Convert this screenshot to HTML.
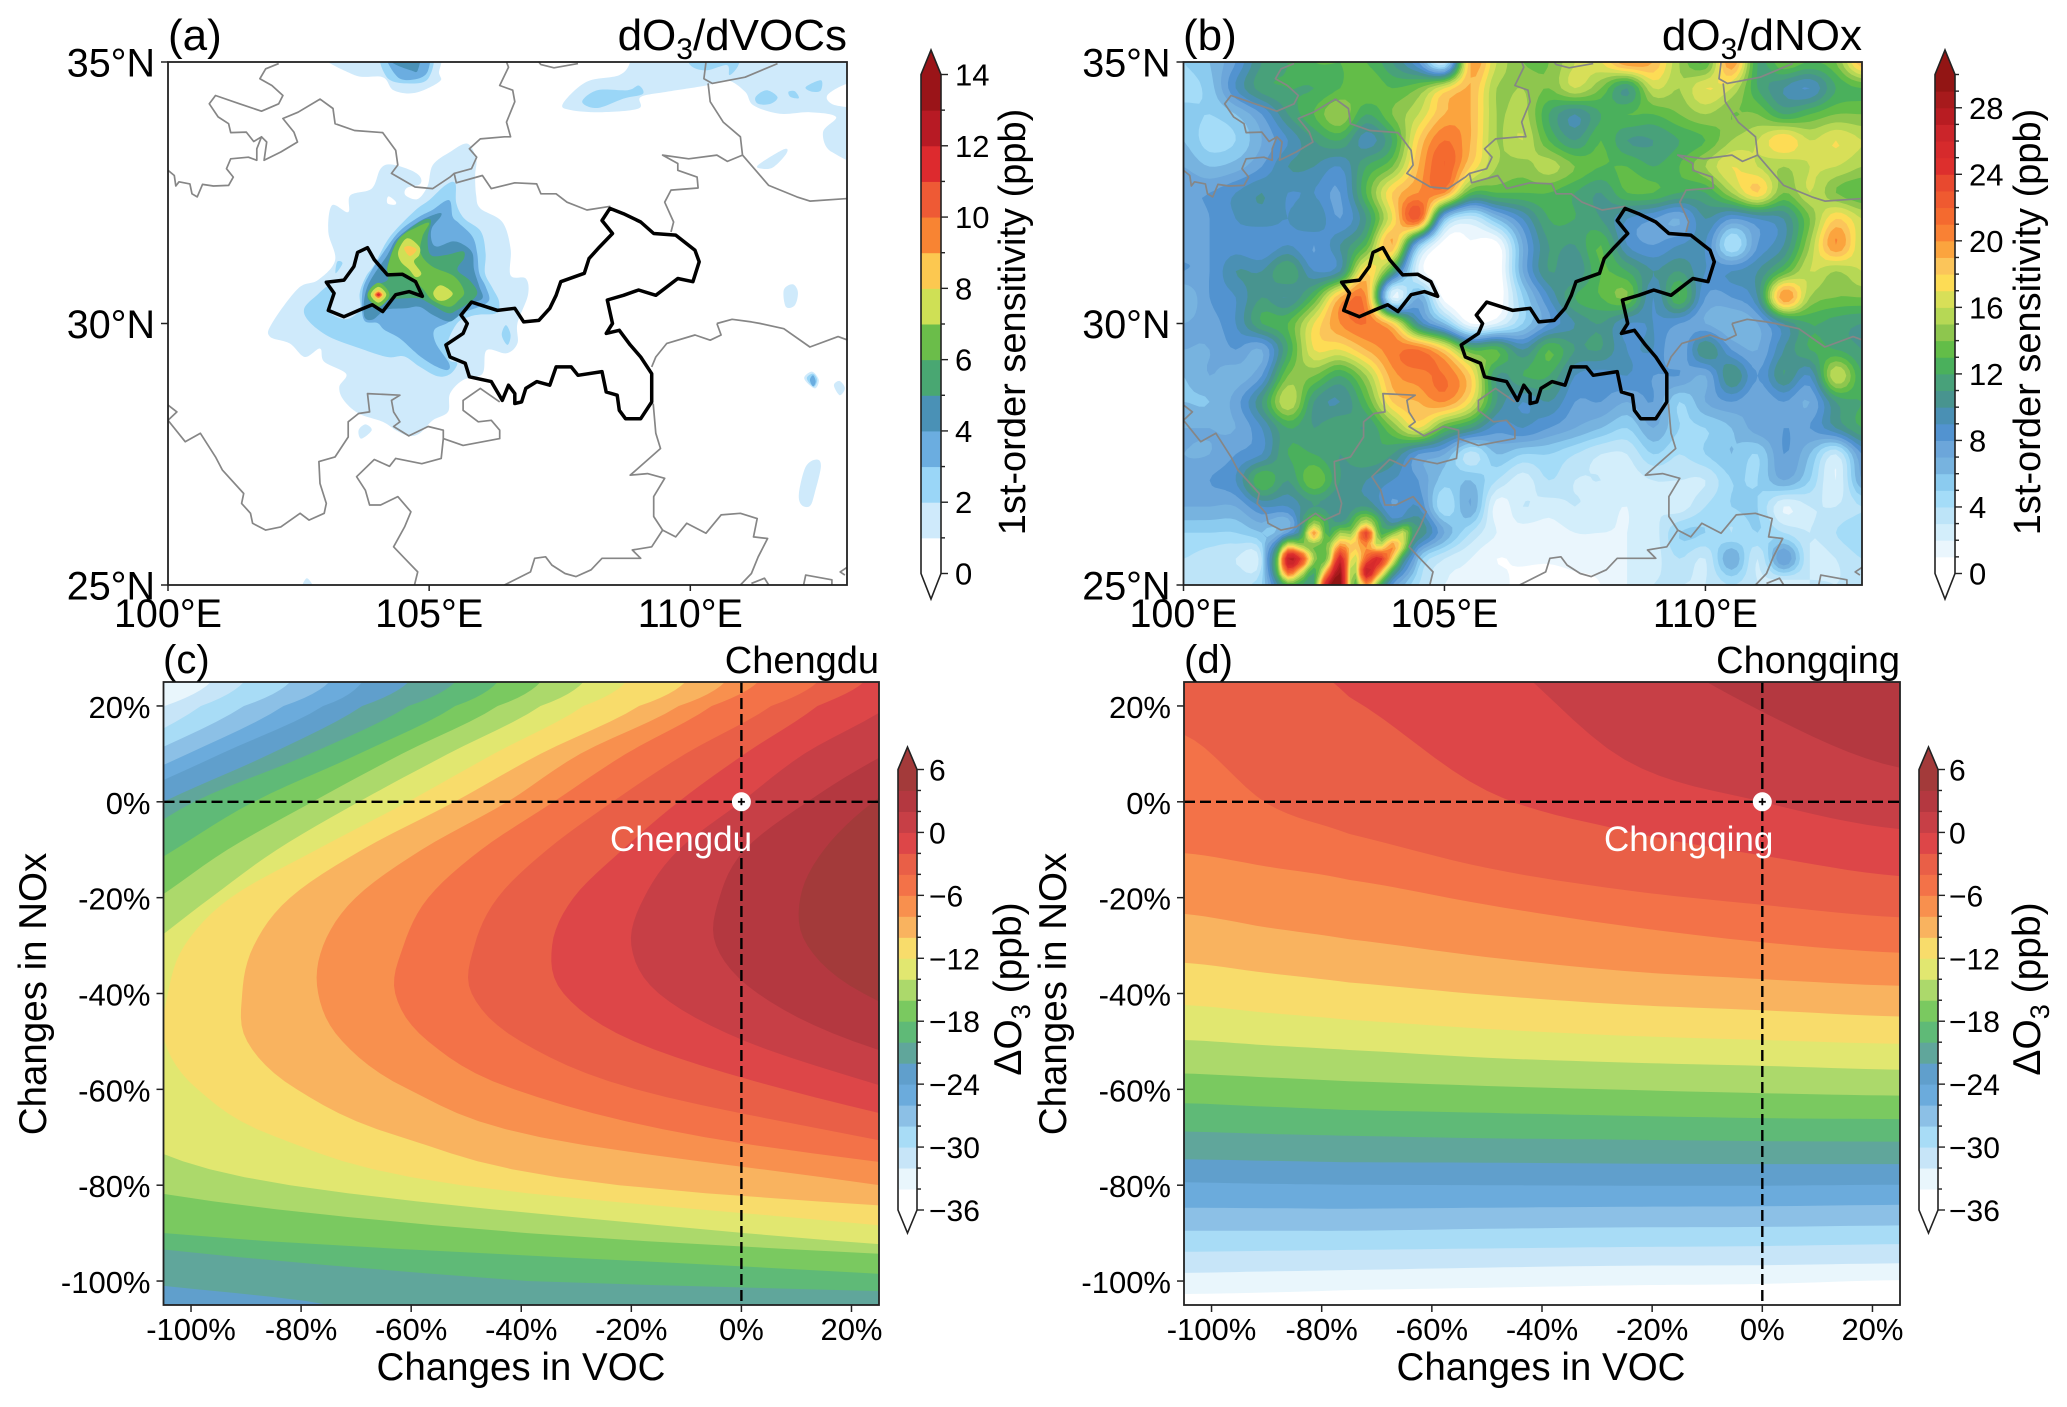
<!DOCTYPE html>
<html lang="en">
<head>
<meta charset="utf-8">
<title>Ozone sensitivity maps and isopleths for Chengdu and Chongqing</title>
<style>
html,body{margin:0;padding:0;background:#fff;}
svg{display:block;font-family:"Liberation Sans",Arial,sans-serif;fill:#000;}
</style>
</head>
<body>
<svg id="fig" xmlns="http://www.w3.org/2000/svg" width="2067" height="1407" viewBox="0 0 2067 1407">
  <rect x="0" y="0" width="2067" height="1407" fill="#fff"/>
  <defs>
    <clipPath id="clipA"><rect x="168" y="62" width="679" height="523"/></clipPath>
    <clipPath id="clipB"><rect x="1183.5" y="62" width="678.5" height="523"/></clipPath>
    <clipPath id="clipC"><rect x="163.5" y="682" width="715.5" height="623"/></clipPath>
    <clipPath id="clipD"><rect x="1184" y="682" width="716" height="623"/></clipPath>
  </defs>
  <g id="panelA"></g>
  <g id="panelB"></g>
  <g id="panelC"></g>
  <g id="panelD"></g>

  <text x="168" y="50" font-size="44">(a)</text>
  <text x="847" y="50" font-size="44" text-anchor="end">dO<tspan dy="9" font-size="30">3</tspan><tspan dy="-9">/dVOCs</tspan></text>
  <text x="1183" y="50" font-size="44">(b)</text>
  <text x="1862" y="50" font-size="44" text-anchor="end">dO<tspan dy="9" font-size="30">3</tspan><tspan dy="-9">/dNOx</tspan></text>
  <text x="163" y="673" font-size="40">(c)</text>
  <text x="879" y="673" font-size="38" text-anchor="end">Chengdu</text>
  <text x="1184" y="673" font-size="40">(d)</text>
  <text x="1900" y="673" font-size="38" text-anchor="end">Chongqing</text>

  <text font-size="38" text-anchor="middle" transform="translate(1025 322) rotate(-90)">1st-order sensitivity (ppb)</text>
  <text font-size="38" text-anchor="middle" transform="translate(2040 322) rotate(-90)">1st-order sensitivity (ppb)</text>
  <text font-size="39" text-anchor="middle" transform="translate(1021 989) rotate(-90)">ΔO<tspan dy="9" font-size="27">3</tspan><tspan dy="-9">  (ppb)</tspan></text>
  <text font-size="39" text-anchor="middle" transform="translate(2040 989) rotate(-90)">ΔO<tspan dy="9" font-size="27">3</tspan><tspan dy="-9">  (ppb)</tspan></text>

  <text font-size="38.5" text-anchor="middle" transform="translate(46 994) rotate(-90)">Changes in NOx</text>
  <text font-size="38.5" text-anchor="middle" transform="translate(1066 994) rotate(-90)">Changes in NOx</text>
  <text x="521" y="1380" font-size="38.5" text-anchor="middle">Changes in VOC</text>
  <text x="1541" y="1380" font-size="38.5" text-anchor="middle">Changes in VOC</text>
</svg>
<script>
/* ---------- colour bands ---------- */
const aColors=["#ffffff","#cfeafb","#9ad6f7","#6bade0","#4a91b6","#49a772","#6bbd4a","#cfe055","#fcc850","#f88433","#ee5a35","#dd2a2e","#b71a24","#9a1418"];
const bColors=["#ffffff","#eaf6fd","#d3eefb","#bde4f8","#a4dcf8","#8bcbef","#77b3df","#6ca6da","#5293d0","#4a90b4","#48948f","#48a17a","#4ab05c","#63bd48","#8ec64e","#b6d855","#d8df58","#fddc55","#fbc55a","#fba43e","#f98134","#f46a2f","#ef5a30","#e8492f","#dd2f2d","#d62a2c","#cb252a","#b81c22","#a71a1c","#921514"];
const o3Colors=["#ffffff","#e9f6fc","#c7e5f8","#a8dcf6","#8cc0e6","#6babdc","#609fcc","#60a69b","#5fba77","#7ac960","#acd96b","#e1e770","#f8dc6b","#f9b35f","#f8904e","#f37248","#e95f47","#dd4648","#c73f46","#b43840","#a33a3a"];

/* ---------- tick labels ---------- */
const lonTicks=[100,105,110];
const lonLabels=["100°E","105°E","110°E"];
const latTicks=[35,30,25];
const latLabels=["35°N","30°N","25°N"];
const pctTicksX=[-100,-80,-60,-40,-20,0,20];
const pctLabelsX=["-100%","-80%","-60%","-40%","-20%","0%","20%"];
const pctTicksY=[20,0,-20,-40,-60,-80,-100];
const pctLabelsY=["20%","0%","-20%","-40%","-60%","-80%","-100%"];
const cbarATicks=[0,2,4,6,8,10,12,14];
const cbarALabels=["0","2","4","6","8","10","12","14"];
const cbarBTicks=[0,4,8,12,16,20,24,28];
const cbarBLabels=["0","4","8","12","16","20","24","28"];
const cbarO3Ticks=[-36,-30,-24,-18,-12,-6,0,6];
const cbarO3Labels=["−36","−30","−24","−18","−12","−6","0","6"];

/* ---------- panel (a): traced contour regions, lon,lat pairs ---------- */
const aL1Main=[104.28,33.04,104.65,32.93,104.83,32.8,104.82,32.66,104.57,32.59,104.55,32.45,104.78,32.38,104.97,32.63,105.07,33.03,105.4,33.28,105.73,33.44,105.9,33.15,105.88,32.83,105.9,32.45,105.98,32.2,106.4,31.94,106.56,31.43,106.56,30.92,106.85,30.86,106.89,30.54,106.69,30,106.69,29.62,106.48,29.43,106.1,29.49,106.02,29.04,105.65,28.92,105.4,28.66,105.36,28.31,105.07,28.15,104.82,27.9,104.61,27.85,104.36,27.96,104.11,28.12,103.65,28.28,103.36,28.54,103.28,28.79,103.41,29.04,102.99,29.27,102.91,29.52,102.62,29.36,102.33,29.62,101.95,29.75,101.99,30,102.49,30.67,102.87,30.83,103.2,31.21,103.07,31.75,103.14,32.26,103.45,32.13,103.49,32.45,103.9,32.58,104.07,32.96];
const aL1South=[103.65,27.96,103.78,28.07,103.9,27.96,103.7,27.8];
const aL1North=[102.95,35.2,103.57,34.75,104.11,34.71,104.32,34.46,104.73,34.41,105.19,34.62,105.19,34.78,105.02,35.2];
const aL1NorthEast=[107.56,34.2,108.01,34.62,108.64,34.75,108.85,35,108.85,35.3,113.4,35.3,113.4,33.22,112.71,33.28,112.54,33.66,112.79,33.95,112.29,34.04,111.71,34.01,111.21,34.17,111.05,34.43,110.71,34.65,110.3,34.55,109.55,34.43,109.05,34.33,109.01,34.11,108.31,34.04,107.72,34.08];
const aL1Streak=[111.3,33.03,111.79,33.33,111.84,33.25,111.59,32.99,111.38,32.96];
const aL1EastA=[111.79,30.64,111.96,30.75,112.06,30.6,112,30.35,111.83,30.32];
const aL1EastB=[112.08,26.75,112.21,27.26,112.42,27.4,112.5,27.26,112.38,26.75,112.29,26.51,112.13,26.53];
const aL1EastC=[112.18,28.95,112.33,29.08,112.46,28.92,112.38,28.76];
const aL1EastD=[112.75,28.82,112.86,28.9,112.96,28.76,112.86,28.63];
const aL1Bottom=[102.57,24.95,102.66,25.13,102.78,24.95];
const aHoleNE=[112.62,34.36,113.02,34.59,113.4,34.59,113.4,34.17,112.79,34.17];
const aHoleCentre=[104.22,32.43,104.36,32.33,104.34,32.27,104.2,32.3];
const aL2Main=[102.61,30.29,102.86,30.55,103.08,30.71,103.15,30.45,103.08,30.23,103.4,30.08,103.67,30.26,103.67,30.58,103.79,30.9,103.95,31.12,104.17,31.54,104.36,31.79,104.74,32.17,105,32.36,105.32,32.65,105.5,32.68,105.52,32.3,105.67,32.01,105.99,31.76,106.08,31.34,106.07,30.96,106.21,30.68,106.34,30.42,106.29,30.2,105.96,30.17,105.77,30.13,105.54,30.01,105.35,29.62,105.38,29.31,105.54,29.24,105.41,29.04,105.16,28.99,104.81,29.18,104.52,29.37,104.2,29.36,103.66,29.53,103.08,29.75,102.7,30.04];
const aL2Chengdu=[103.24,31.18,103.34,31.15,103.21,30.96];
const aL2East=[106.47,29.97,106.56,29.78,106.5,29.59,106.39,29.78];
const aL2North=[104.11,35.2,104.19,34.71,104.57,34.59,104.98,34.68,105.02,35.2];
const aL2NeA=[107.93,34.24,108.22,34.46,108.8,34.46,109.01,34.55,109.09,34.39,108.72,34.3,108.22,34.12];
const aL2NeB=[111.25,34.33,111.46,34.46,111.67,34.33,111.54,34.2,111.3,34.2];
const aL2NeC=[111.88,34.43,112,34.44,112.08,34.31,111.92,34.33];
const aL2NeD=[112.21,34.52,112.5,34.65,112.5,34.46,112.34,34.43];
const aL2NeE=[110,34.94,110.3,34.84,110.7,34.94,110.75,34.75,110.92,34.94,110.92,35.2,110,35.2];
const aL2EastHot=[112.23,28.95,112.35,29.04,112.43,28.92,112.36,28.79];
const aL3Main=[103.72,30.58,103.85,30.93,104.2,31.47,104.46,31.79,104.81,32.04,105.06,32.17,105.38,32.36,105.45,32.04,105.57,31.92,105.83,31.66,105.92,31.34,105.96,30.96,106.08,30.71,106.15,30.45,105.96,30.32,105.64,30.2,105.35,30.01,105.1,29.88,105.13,29.62,105.38,29.24,105.35,29.11,105.13,29.18,104.87,29.34,104.68,29.5,104.43,29.72,104.14,29.88,104.01,30.01,103.75,30.07];
const aL3North=[104.19,35.2,104.4,34.71,104.78,34.68,104.98,34.84,104.94,35.2];
const aL3EastHot=[112.29,28.92,112.35,29.01,112.4,28.89,112.35,28.8];
const aL4Main=[104.2,31.31,104.39,31.63,104.81,31.95,105.19,32.11,105.22,32.04,105.05,31.82,105.05,31.57,105.16,31.47,105.45,31.57,105.67,31.5,105.83,31.34,105.86,31.03,105.96,30.71,106.02,30.48,105.77,30.36,105.51,30.1,105.35,30.04,105.06,30.17,104.81,30.32,104.55,30.29,104.17,30.26,103.91,30.07,103.75,30.17,103.82,30.71];
const aL4North=[104.28,35,104.65,34.84,104.78,34.84,104.8,35.2,104.3,35.2];
const aL5Main=[104.2,31.09,104.39,31.57,104.78,31.92,105.03,31.98,104.97,31.63,105.03,31.31,105.32,31.31,105.64,31.38,105.67,31.25,105.54,31.03,105.77,30.83,105.92,30.61,105.83,30.45,105.54,30.26,105.35,30.2,105,30.39,104.81,30.48,104.52,30.48,104.2,30.45,104.01,30.36,103.82,30.48,103.91,30.71,104.2,30.83];
const aL6Main=[104.23,31.18,104.43,31.63,104.78,31.85,105,31.92,104.87,31.66,104.84,31.34,105.06,31.09,105.48,30.9,105.67,30.61,105.57,30.45,105.38,30.32,105.06,30.45,104.9,30.64,104.74,30.8,104.52,30.96,104.23,30.96];
const aL6Hot=[103.82,30.55,104.03,30.78,104.24,30.55,104.03,30.32];
const aL7North=[104.41,31.38,104.58,31.63,104.81,31.47,104.81,31.31,104.71,31.18,104.85,30.96,104.74,30.89,104.62,31.03,104.46,31.18];
const aL7South=[105.08,30.59,105.22,30.73,105.45,30.58,105.32,30.45,105.16,30.45];
const aL7Hot=[103.88,30.55,104.03,30.7,104.18,30.55,104.03,30.4];
const aL8North=[104.52,31.44,104.63,31.48,104.76,31.41,104.63,31.29];
const aL8Hot=[103.93,30.55,104.03,30.64,104.13,30.55,104.03,30.46];
const aL9Hot=[103.96,30.55,104.03,30.61,104.1,30.55,104.03,30.49];
const aL10Hot=[103.98,30.55,104.03,30.59,104.08,30.55,104.03,30.51];
const aL11Hot=[104,30.55,104.03,30.575,104.06,30.55,104.03,30.525];
const aShapeLevels=[1,1,1,1,1,1,1,1,1,1,0,0,2,2,2,2,2,2,2,2,2,2,3,3,3,4,4,5,6,6,7,7,7,8,8,9,10,11];
const aShapes=[aL1Main,aL1South,aL1North,aL1NorthEast,aL1Streak,aL1EastA,aL1EastB,aL1EastC,aL1EastD,aL1Bottom,aHoleNE,aHoleCentre,aL2Main,aL2Chengdu,aL2East,aL2North,aL2NeA,aL2NeB,aL2NeC,aL2NeD,aL2NeE,aL2EastHot,aL3Main,aL3North,aL3EastHot,aL4Main,aL4North,aL5Main,aL6Main,aL6Hot,aL7North,aL7South,aL7Hot,aL8North,aL8Hot,aL9Hot,aL10Hot,aL11Hot];

/* ---------- panel (b): sensitivity (ppb) on a 0.5 degree grid, lon 100..113, north to south ---------- */
const bLat350=[5,6,8,11,12,13,13,13,11,8,3,19,16,14,14,16,17,20,19,15,13,20,12,14,13,14,19];
const bLat345=[4.5,5.5,9,11.5,12,12,13,14,13,14,17,19,15,15,14,16,14,11,16,15,17,16,12,10,9,12,13];
const bLat340=[5.5,5,6,8,11,13,15,12,14,16,19,19,15,15.5,12,10,12,13,13,14,15,14,14,12,13,14,14];
const bLat335=[6,4.5,5,7,9,11,12,9.5,12,18,21,19,15,16,13,11,13,11,11,12,13,15,16,18,16,17,16];
const bLat330=[7,6,6.5,8,10,10,9,12,14,19,22,18,15,14.5,15.5,14,13,13,12,13,15,17,16,15,16,16,15];
const bLat325=[8,8,9,10,9,9,8,13,18,20,20,13,13,13,13,12,11,13,13,12,12,15,18,14,16,14,13];
const bLat320=[7,8,9,9.5,9,10,8,11,17,22,6,3,6,9,12,12,11,9,8,7,10,8,9,10,14,18,16];
const bLat315=[7.5,8,8.5,8,9,8,10,13,19,6,0.3,0.8,0.5,7,11,11,13,9,8,9,9,4,8,10,15,20,16];
const bLat310=[8,8,10,10,12,9,10,18,12,2,0,0,0,7,11,10,13,12,10,11,9,9,10,13,16,15,16];
const bLat305=[6,8,9,11,10,13,19,20,2,7,0.5,0,0,5,9,12,13,14,9,13,8,8,10,20,15,14,14];
const bLat300=[7,7.5,9,12,13,17,20,21,18,10,6,1,2,5,8,10,11,9,9,8,7,6,7,10,12,11.5,11];
const bLat295=[7,7,8,7,12,17,17,19,20.5,21,18,13,13,10,13,11,11,9,9,7,11,8,7,10,12,12,11];
const bLat290=[6,7,6.5,8,14,14,12,15,19.5,20.5,21,18,11,12,12,9,8.5,9,8,8,7,11,8,11,9,16,12];
const bLat285=[6,6,7.5,11,16,11,10,13,18,19,20,17,11,9,10,8,8,7,8,5,7,8,7,8,7,11,12];
const bLat280=[7,7,7,9,12,11,12,11,14,17,13,11,8.5,9,8,7,6,5,7,5,5,6,7.5,8,8,10,12];
const bLat275=[7,7,8,9,12,12,11,12,11,8,7,3.5,6,5,5,4,3,3,5,4,5,6,5,8,6,3,8];
const bLat270=[7,8,9,13,11,14,11,10,9,8,5.5,6,4,2.5,4,3,3,2.5,3,3,3,5,5,7,5,2,7];
const bLat265=[7,7,7,9,9,11,10,11,8,9,4,7,1.5,3,2.5,3,2.5,2,3,2.5,4,5,5,2,3,3,4];
const bLat260=[5,5,5,6,7,17,12,19,11,11,7,4,2,1.5,1.5,2,2,2,2.5,5,5,4,5,4,3,4,5];
const bLat255=[4,3.5,3,4,26,14,26,17,18,6,3,2,1,1.2,1.2,1.5,1.5,2,2.5,4,3,7,3,8,3,3,4];
const bLat250=[3.5,4,4,5,13,13,28,13,5,4,2,2,1.5,0.5,0,0.5,1,2,3,3,3,4,3,2,3,3,3];
const bField=[bLat350,bLat345,bLat340,bLat335,bLat330,bLat325,bLat320,bLat315,bLat310,bLat305,bLat300,bLat295,bLat290,bLat285,bLat280,bLat275,bLat270,bLat265,bLat260,bLat255,bLat250];
/* hot spots near the southern edge: 0.25 degree grid, lon 101.5..104.5 */
const bHot2625=[6,7,7,8,12,10,14,11,13,10,11,16,9];
const bHot2600=[5,6,8,11,20,12,15,15,24,13,14,16,10];
const bHot2575=[7,9,17,15,14,14,20,18,20,16,20,15,8];
const bHot2550=[8,11,27,24,15,14,26,16,22,25,18,10,7];
const bHot2525=[7,11,22,17,12,20,29,14,27,20,12,8,6];
const bHot2500=[6,9,13,12,12,27,30,13,20,13,8,6,5];
const bHotField=[bHot2625,bHot2600,bHot2575,bHot2550,bHot2525,bHot2500];

/* ---------- province boundaries, lon,lat pairs ---------- */
const borderA=[102.12,34.97,101.87,34.87,101.76,34.68,101.99,34.55,102.2,34.36,102.12,34.2,101.79,34.06,101.37,34.2,100.91,34.36,100.79,34.2,100.96,33.95,101.16,33.82,101.2,33.65,101.5,33.66,101.64,33.48,101.79,33.57,101.7,33.34,101.7,33.12,101.54,33.18,101.2,33.15,101.12,32.96,101.25,32.8,101.16,32.64,100.87,32.63,100.66,32.66,100.56,32.42,100.46,32.48,100.42,32.67,100.21,32.71,100.15,32.63,100.12,32.83,100,32.93];
const borderB=[101.79,33.57,101.89,33.47,101.84,33.12,102.16,33.28,102.48,33.47,102.41,33.66,102.2,33.92,102.49,34.04,102.91,34.29,103.16,34.11,103.2,33.82,103.57,33.69,104.11,33.65,104.36,33.31,104.4,33.03,104.28,32.87,104.73,32.61,105.07,32.58,105.4,32.8,105.48,32.87,105.52,32.69,106.02,32.83,106.19,32.58,106.64,32.69,107.06,32.67,107.14,32.48,107.43,32.48,107.64,32.32,108.02,32.17,108.47,32.24];
const borderC=[105.48,32.87,105.81,32.96,105.91,33.18,105.77,33.34,105.98,33.53,106.44,33.57,106.56,33.57,106.48,33.85,106.64,34.24,106.6,34.46,106.35,34.55,106.52,34.9,106.48,35];
const borderD=[107.1,35,107.14,34.95,107.39,34.89,107.85,34.97];
const borderE=[110.3,35,110.26,34.68,110.42,34.59,111.05,34.71,111.67,34.97];
const borderF=[110.34,34.59,110.38,34.24,110.63,33.85,110.96,33.57,111,33.22,111.5,32.64,112.04,32.42,112.29,32.34,113.02,32.39];
const borderG=[111,33.22,110.71,33.1,110.51,33.22,109.97,33.15,109.47,33.22,109.76,33.06,109.76,32.93,110.13,32.8,110.15,32.59,109.63,32.55,109.51,32.32,109.68,31.94,109.63,31.75];
const borderH=[110.51,30,110.8,30.08,111.17,30.03,111.34,30,111.79,29.9,112.29,29.55,112.83,29.75,113.02,29.68];
const borderI=[110.51,30,110.59,29.78,110.38,29.68,110.09,29.78,109.55,29.62,109.34,29.36,109.26,29.17];
const borderJ=[109.29,28.47,109.34,27.9,109.43,27.61,108.85,27.1,109.18,27.13,109.51,27.04,109.3,26.69,109.3,26.31,109.47,26.05,109.26,25.73,108.89,25.67,109.05,25.51,108.6,25.51,108.31,25.51,108.1,25.29,107.81,25.16,107.6,25.22,107.35,25.38,107.23,25.54,107.02,25.51,106.94,25.25,106.44,25];
const borderK=[109.47,26.05,109.72,25.92,109.93,26.18,110.3,25.99,110.59,26.34,110.96,26.37,111.28,26.27,111.21,25.92,111.48,25.89,111.3,25.54,111.17,25.22,110.96,25];
const borderL=[100,28.44,100.17,28.31,100,28.15,100.33,27.74,100.62,27.9,100.91,27.45,101.04,27.2,101.45,26.75,101.41,26.56,101.58,26.37,101.62,26.18,101.87,26.05,102.16,26.11,102.53,26.37,102.7,26.24,102.99,26.37,103.03,26.56,102.91,26.94,102.89,27.36,103.2,27.45,103.45,27.83,103.45,28.12,103.65,28.28,103.86,28.31,103.82,28.66,104.44,28.63,104.28,28.53,104.32,28.31,104.44,28.12,104.32,28.03,104.61,27.85,104.98,28.03,105.27,27.96,105.27,27.8,105.65,27.67,106.35,27.8,106.35,27.96,106.19,28.15,105.94,28.12,105.65,28.34,105.65,28.53,105.98,28.76,106.35,28.5];
const borderM=[105.27,27.8,105.23,27.42,104.86,27.32,104.36,27.42,104.24,27.27,103.95,27.4,103.61,27.07,103.78,26.81,103.86,26.53,104.07,26.53,104.4,26.69,104.65,26.4,104.53,26.11,104.32,25.73,104.53,25.51,104.78,25.25,104.72,25];
const borderN=[111.17,25.03,111.42,25.13,111.5,25];
const borderO=[112.17,25,112.21,25.19,112.71,25.1,112.71,25];
const borderP=[113.02,25.35,112.87,25.25,112.96,25.19];
const provinceBorders=[borderA,borderB,borderC,borderD,borderE,borderF,borderG,borderH,borderI,borderJ,borderK,borderL,borderM,borderN,borderO,borderP];
const chongqingOutline=[108.46,32.2,108.31,31.97,108.51,31.72,108.26,31.46,108.06,31.24,107.97,30.96,107.52,30.8,107.43,30.54,107.31,30.29,107.1,30.06,106.81,30.03,106.64,30.29,106.31,30.25,105.81,30.41,105.61,30.16,105.73,30,105.65,29.81,105.32,29.59,105.4,29.36,105.69,29.24,105.77,28.98,106.19,28.89,106.4,28.53,106.52,28.82,106.64,28.66,106.64,28.47,106.77,28.5,106.85,28.76,107.06,28.89,107.31,28.82,107.43,29.17,107.72,29.17,107.85,29.01,108.31,29.08,108.39,28.69,108.6,28.63,108.64,28.34,108.76,28.18,109.05,28.18,109.26,28.5,109.26,29.04,109.05,29.36,108.85,29.59,108.64,29.87,108.39,29.81,108.51,30,108.41,30.45,108.72,30.54,109.01,30.64,109.34,30.54,109.76,30.86,110.05,30.8,110.17,31.18,110.09,31.4,109.72,31.69,109.3,31.72,109.05,31.94,108.72,32.1];
const chengduOutline=[103.82,31.45,103.63,31.36,103.56,31.09,103.37,30.83,103.03,30.79,103.18,30.58,103.07,30.25,103.37,30.13,103.67,30.26,103.91,30.36,104.11,30.23,104.36,30.55,104.62,30.61,104.87,30.52,104.74,30.8,104.49,30.94,104.2,30.93,103.95,31.22];

/* ---------- panel (c): VOC change (%) where each O3 contour crosses each NOx row ---------- */
const noxRows=[25,20,10,0,-10,-20,-30,-40,-50,-60,-70,-80,-90,-100,-105];
const cVocM34=[-104.8,-116.8,-128.7,-146.7,-160,-160,-160,-160,-160,-160,-160,-160,-160,-160,-160];
const cVocM32=[-96.4,-104.8,-121.6,-142,-155,-160,-160,-160,-160,-160,-160,-160,-160,-160,-160];
const cVocM30=[-90.4,-98.2,-114.4,-134.7,-150,-160,-160,-160,-160,-160,-160,-160,-160,-160,-160];
const cVocM28=[-82,-90.4,-107.8,-127.5,-145,-155,-160,-160,-160,-160,-160,-160,-160,-160,-160];
const cVocM26=[-74.9,-83.2,-100.6,-120.4,-140,-150,-160,-160,-160,-160,-160,-160,-160,-150,-140.7];
const cVocM24=[-68.9,-76,-94.6,-113.2,-128.7,-140,-150,-160,-160,-160,-160,-155,-145,-128.7,-110.8];
const cVocM22=[-60.5,-68.9,-85.6,-105,-121.6,-135,-140,-145,-150,-150,-150,-145,-144,-113,-74.9];
const cVocM20=[-52,-60.5,-78.4,-99.4,-113.2,-127.5,-135,-140,-140,-145,-145,-140,-127.5,-38.9,105];
const cVocM18=[-44.3,-52,-69.5,-88.6,-103,-116.8,-128.7,-135,-140,-140,-140,-127.5,-104.8,44.9,120];
const cVocM16=[-36.5,-44.3,-61.7,-77.9,-93.4,-106,-120,-128,-135,-135,-127.5,-114,-38.9,105,125];
const cVocM14=[-28.7,-36.5,-53.3,-69.5,-84.4,-96.4,-107.8,-120,-125,-122.8,-112,-82,0.6,105,125];
const cVocM12=[-21,-28.7,-45,-60.6,-77.2,-92.8,-101.2,-104.2,-104.8,-98.8,-84.4,-50.9,38.9,105,125];
const cVocM10=[-10.2,-18.6,-36.5,-52.1,-68.9,-82,-88.6,-90.7,-89.8,-80.8,-61.7,-22.2,92.8,130,130];
const cVocM8=[-3,-11.4,-29.3,-42.5,-58.1,-70.1,-76,-76.9,-72.5,-60.5,-36.5,25.1,80.8,120,120];
const cVocM6=[3,-5.4,-21,-34.1,-47.3,-56.9,-61.4,-62.9,-56.9,-41.3,-6.6,56.9,110,110,110];
const cVocM4=[13.8,5.4,-10.2,-23.4,-35.3,-44.3,-48.5,-49,-40.1,-19.2,22.2,68.9,110,110,110];
const cVocM2=[22.2,13.8,0.6,-11.4,-21.6,-30.5,-34.4,-32.3,-19.5,7.8,44.9,90,100,100,100];
const cVocP0=[35.3,26.9,11.4,0,-11.4,-17.7,-20,-15,0.8,27.5,56.9,100,100,100,100];
const cVocP2=[68.9,44.9,26.3,12,0.6,-4,-4.6,3,20.4,50.9,90,100,100,100,100];
const cVocP4=[90,70,37.7,24,15,10.7,12,22.2,44.9,90,120,120,120,120,120];
const cLevels=[-34,-32,-30,-28,-26,-24,-22,-20,-18,-16,-14,-12,-10,-8,-6,-4,-2,0,2,4];
const cContours=[cVocM34,cVocM32,cVocM30,cVocM28,cVocM26,cVocM24,cVocM22,cVocM20,cVocM18,cVocM16,cVocM14,cVocM12,cVocM10,cVocM8,cVocM6,cVocM4,cVocM2,cVocP0,cVocP2,cVocP4];

/* ---------- panel (d): NOx change (%) where each O3 contour crosses each VOC column ---------- */
const vocCols=[-105,-90,-75,-50,-25,0,25];
const dNoxM34=[-102.7,-102.4,-101.9,-101.4,-100.9,-100.6,-99.8];
const dNoxM32=[-98.3,-98,-97.7,-97.2,-96.8,-96.7,-96.3];
const dNoxM30=[-93.9,-93.7,-93.5,-93.2,-92.9,-92.7,-92.3];
const dNoxM28=[-89.5,-89.5,-89.5,-89.1,-88.8,-88.7,-88.4];
const dNoxM26=[-84.7,-84.8,-84.9,-84.7,-84.5,-84.4,-84.1];
const dNoxM24=[-79.4,-79.7,-79.9,-80,-80.1,-80.1,-79.9];
const dNoxM22=[-74.6,-74.9,-75.2,-75.3,-75.5,-75.6,-75.6];
const dNoxM20=[-68.8,-69.3,-69.7,-70.2,-70.5,-70.8,-70.9];
const dNoxM18=[-62.9,-63.6,-64.3,-64.9,-65.5,-66,-66.2];
const dNoxM16=[-56.7,-57.5,-58.3,-59.3,-60.1,-60.8,-61.3];
const dNoxM14=[-49.7,-50.8,-51.8,-53.4,-54.4,-55.1,-55.9];
const dNoxM12=[-42.4,-44,-45.5,-47.4,-48.8,-49.7,-50.5];
const dNoxM10=[-33.6,-35.7,-37.7,-40.3,-42.3,-43.5,-44.8];
const dNoxM8=[-23.4,-26.2,-28.7,-32.4,-35.3,-37,-38.4];
const dNoxM6=[-10.7,-13.5,-16.3,-21.5,-25.9,-29.3,-31.5];
const dNoxM4=[14,-0.3,-6.7,-13.8,-18.4,-21.5,-24.1];
const dNoxM2=[45,35,21.9,2.3,-6,-11.2,-15.5];
const dNoxP0=[72,58,46,32.8,8.8,0,-5.7];
const dNoxP2=[110,100,90,60,36,18.8,7.1];
const dLevels=[-34,-32,-30,-28,-26,-24,-22,-20,-18,-16,-14,-12,-10,-8,-6,-4,-2,0,2];
const dContours=[dNoxM34,dNoxM32,dNoxM30,dNoxM28,dNoxM26,dNoxM24,dNoxM22,dNoxM20,dNoxM18,dNoxM16,dNoxM14,dNoxM12,dNoxM10,dNoxM8,dNoxM6,dNoxM4,dNoxM2,dNoxP0,dNoxP2];

/* ---------- drawing ---------- */
const NS="http://www.w3.org/2000/svg";
function mk(tag,parent,attrs){
  const el=document.createElementNS(NS,tag);
  for(const k in attrs){el.setAttribute(k,attrs[k]);}
  parent.appendChild(el);
  return el;
}
const PA={x0:168,x1:847,y0:62,y1:585};
const PB={x0:1183.5,x1:1862,y0:62,y1:585};
const PC={x0:163.5,x1:879,y0:682,y1:1305};
const PD={x0:1184,x1:1900,y0:682,y1:1305};
function lonX(p,lon){return p.x0+(lon-100)/13*(p.x1-p.x0);}
function latY(p,lat){return p.y0+(35-lat)/10*(p.y1-p.y0);}
function vocX(p,v){return p.x0+(v+105)/130*(p.x1-p.x0);}
function noxY(p,v){return p.y0+(25-v)/130*(p.y1-p.y0);}

function closedSmoothPath(p,flat){
  const pts=[];
  for(let i=0;i<flat.length;i+=2){pts.push([lonX(p,flat[i]),latY(p,flat[i+1])]);}
  const n=pts.length;
  let d="M"+pts[0][0].toFixed(1)+" "+pts[0][1].toFixed(1);
  for(let i=0;i<n;i++){
    const a=pts[(i-1+n)%n],b=pts[i],c=pts[(i+1)%n],e=pts[(i+2)%n];
    d+="C"+(b[0]+(c[0]-a[0])/6).toFixed(1)+" "+(b[1]+(c[1]-a[1])/6).toFixed(1)+" "+(c[0]-(e[0]-b[0])/6).toFixed(1)+" "+(c[1]-(e[1]-b[1])/6).toFixed(1)+" "+c[0].toFixed(1)+" "+c[1].toFixed(1);
  }
  return d+"Z";
}
function linePath(p,flat,close){
  let d="";
  for(let i=0;i<flat.length;i+=2){
    d+=(i?"L":"M")+lonX(p,flat[i]).toFixed(1)+" "+latY(p,flat[i+1]).toFixed(1);
  }
  return d+(close?"Z":"");
}

function drawMapBorders(p,parent,panelName){
  provinceBorders.forEach(function(b,i){
    const el=mk("path",parent,{d:linePath(p,b,false),fill:"none",stroke:"#868686","stroke-width":"1.7","stroke-linejoin":"round"});
    
    
  });
  const cq=mk("path",parent,{d:linePath(p,chongqingOutline,true),fill:"none",stroke:"#000","stroke-width":"3.5","stroke-linejoin":"round"});
  
  
  const cd=mk("path",parent,{d:linePath(p,chengduOutline,true),fill:"none",stroke:"#000","stroke-width":"3.5","stroke-linejoin":"round"});
  
  
}

function drawFrame(p,parent,panelName){
  const f=mk("rect",parent,{x:p.x0,y:p.y0,width:p.x1-p.x0,height:p.y1-p.y0,fill:"none",stroke:"#222","stroke-width":"1.8"});
  
  
}

function drawMapAxes(p,parent,panelName){
  lonTicks.forEach(function(v,i){
    const x=lonX(p,v);
    const t=mk("line",parent,{x1:x,x2:x,y1:p.y1,y2:p.y1+6,stroke:"#222","stroke-width":"1.5"});
    
    
    const l=mk("text",parent,{x:x,y:627,"font-size":"39.5","text-anchor":"middle"});
    l.textContent=lonLabels[i];
    
    
  });
  latTicks.forEach(function(v,i){
    const y=latY(p,v);
    const t=mk("line",parent,{x1:p.x0-7,x2:p.x0,y1:y,y2:y,stroke:"#222","stroke-width":"1.5"});
    
    
    const l=mk("text",parent,{x:p.x0-13,y:y+14.5,"font-size":"39.5","text-anchor":"end"});
    l.textContent=latLabels[i];
    
    
  });
}

function drawPctAxes(p,parent,panelName){
  pctTicksX.forEach(function(v,i){
    const x=vocX(p,v);
    const t=mk("line",parent,{x1:x,x2:x,y1:p.y1,y2:p.y1+7,stroke:"#222","stroke-width":"1.5"});
    
    
    const l=mk("text",parent,{x:x,y:1340,"font-size":"31","text-anchor":"middle"});
    l.textContent=pctLabelsX[i];
    
    
  });
  pctTicksY.forEach(function(v,i){
    const y=noxY(p,v);
    const t=mk("line",parent,{x1:p.x0-7,x2:p.x0,y1:y,y2:y,stroke:"#222","stroke-width":"1.5"});
    
    
    const l=mk("text",parent,{x:p.x0-13,y:y+12,"font-size":"31","text-anchor":"end"});
    l.textContent=pctLabelsY[i];
    
    
  });
}

function drawColorbar(parent,cfg){
  const vy=function(v){return cfg.y1-(v-cfg.vmin)/(cfg.vmax-cfg.vmin)*(cfg.y1-cfg.y0);};
  const step=(cfg.vmax-cfg.vmin)/cfg.colors.length;
  const top=mk("polygon",parent,{points:cfg.x0+","+cfg.y0+" "+cfg.x1+","+cfg.y0+" "+((cfg.x0+cfg.x1)/2)+","+cfg.tipTop,fill:cfg.colors[cfg.colors.length-1]});
  
  
  const bot=mk("polygon",parent,{points:cfg.x0+","+cfg.y1+" "+cfg.x1+","+cfg.y1+" "+((cfg.x0+cfg.x1)/2)+","+cfg.tipBottom,fill:"#fff"});
  
  
  cfg.colors.forEach(function(c,i){
    const yTop=vy(cfg.vmin+(i+1)*step),yBot=vy(cfg.vmin+i*step);
    const r=mk("rect",parent,{x:cfg.x0,y:yTop.toFixed(2),width:cfg.x1-cfg.x0,height:(yBot-yTop+0.5).toFixed(2),fill:c});
    
    
  });
  const mid=(cfg.x0+cfg.x1)/2;
  const o=mk("polygon",parent,{points:[[cfg.x0,cfg.y0],[mid,cfg.tipTop],[cfg.x1,cfg.y0],[cfg.x1,cfg.y1],[mid,cfg.tipBottom],[cfg.x0,cfg.y1]].map(function(q){return q.join(",");}).join(" "),fill:"none",stroke:"#222","stroke-width":"1.6"});
  
  
  for(let v=cfg.vmin;v<=cfg.vmax+1e-6;v+=cfg.minorStep){
    const y=vy(v);
    const t=mk("line",parent,{x1:cfg.x1,x2:cfg.x1+(cfg.ticks.indexOf(v)>=0?7:4),y1:y,y2:y,stroke:"#222","stroke-width":"1.4"});
    
    
  }
  cfg.ticks.forEach(function(v,i){
    const l=mk("text",parent,{x:cfg.labelX,y:vy(v)+11,"font-size":cfg.fontSize});
    l.textContent=cfg.labels[i];
    
    
  });
}

/* panel a */
(function(){
  const parent=document.getElementById("panelA");
  const g=mk("g",parent,{"clip-path":"url(#clipA)"});
  
  
  aShapes.forEach(function(s,i){
    const el=mk("path",g,{d:closedSmoothPath(PA,s),fill:aColors[aShapeLevels[i]]});
    
    
  });
  drawMapBorders(PA,g,'panel-a');
  drawFrame(PA,parent,'panel-a');
  drawMapAxes(PA,parent,'panel-a');
  drawColorbar(parent,{name:'colorbar-a',x0:921,x1:941,y0:74.5,y1:573.5,tipTop:50,tipBottom:599,vmin:0,vmax:14,colors:aColors,ticks:cbarATicks,labels:cbarALabels,minorStep:1,labelX:955,fontSize:31});
})();

/* panel b */
function crInterp(a,b,c,d,t){return b+0.5*t*(c-a+t*(2*a-5*b+4*c-d+t*(3*(b-c)+d-a)));}
function bicubic(grid,r,c){
  const nr=grid.length,nc=grid[0].length;
  const r0=Math.floor(r),c0=Math.floor(c),tr=r-r0,tc=c-c0;
  const col=[];
  for(let i=-1;i<=2;i++){
    const row=grid[Math.min(nr-1,Math.max(0,r0+i))];
    const v=[];
    for(let j=-1;j<=2;j++){v.push(row[Math.min(nc-1,Math.max(0,c0+j))]);}
    col.push(crInterp(v[0],v[1],v[2],v[3],tc));
  }
  return crInterp(col[0],col[1],col[2],col[3],tr);
}
function bSample(lon,lat){
  let v=bicubic(bField,(35-lat)/0.5,(lon-100)/0.5);
  const w=Math.min(1,(lon-101.5)/0.25,(104.5-lon)/0.25,(26.25-lat)/0.25);
  if(w>0){
    const h=bicubic(bHotField,(26.25-lat)/0.25,(lon-101.5)/0.25);
    v=v*(1-w)+h*w;
  }
  return Math.max(0,v);
}
(function(){
  const parent=document.getElementById("panelB");
  const g=mk("g",parent,{"clip-path":"url(#clipB)"});
  
  
  const step=0.1,nx=130,ny=100;
  const vals=[];
  for(let j=0;j<=ny;j++){
    const row=[];
    for(let i=0;i<=nx;i++){row.push(bSample(100+i*step,35-j*step));}
    vals.push(row);
  }
  const X=function(i){return lonX(PB,100+i*step);};
  const Y=function(j){return latY(PB,35-j*step);};
  for(let L=0;L<bColors.length;L++){
    let d="";
    if(L===0){
      d="M"+PB.x0+" "+PB.y0+"H"+PB.x1+"V"+PB.y1+"H"+PB.x0+"Z";
    }else{
      for(let j=0;j<ny;j++){
        let run=-1;
        for(let i=0;i<=nx;i++){
          const full=i<nx&&vals[j][i]>=L&&vals[j][i+1]>=L&&vals[j+1][i]>=L&&vals[j+1][i+1]>=L;
          if(full){if(run<0){run=i;}continue;}
          if(run>=0){
            d+="M"+X(run).toFixed(1)+" "+Y(j).toFixed(1)+"H"+X(i).toFixed(1)+"V"+Y(j+1).toFixed(1)+"H"+X(run).toFixed(1)+"Z";
            run=-1;
          }
          if(i===nx){continue;}
          const q=[[i,j,vals[j][i]],[i+1,j,vals[j][i+1]],[i+1,j+1,vals[j+1][i+1]],[i,j+1,vals[j+1][i]]];
          if(q.every(function(c){return c[2]<L;})){continue;}
          const out=[];
          for(let k=0;k<4;k++){
            const a=q[k],b=q[(k+1)%4];
            if(a[2]>=L){out.push([a[0],a[1]]);}
            if((a[2]>=L)!==(b[2]>=L)){
              const t=(L-a[2])/(b[2]-a[2]);
              out.push([a[0]+(b[0]-a[0])*t,a[1]+(b[1]-a[1])*t]);
            }
          }
          out.forEach(function(c,k){d+=(k?"L":"M")+X(c[0]).toFixed(1)+" "+Y(c[1]).toFixed(1);});
          d+="Z";
        }
      }
    }
    if(d){
      const el=mk("path",g,{d:d,fill:bColors[L]});
      
      
    }
  }
  drawMapBorders(PB,g,'panel-b');
  drawFrame(PB,parent,'panel-b');
  drawMapAxes(PB,parent,'panel-b');
  drawColorbar(parent,{name:'colorbar-b',x0:1935,x1:1955,y0:74.5,y1:573.5,tipTop:50,tipBottom:599,vmin:0,vmax:30,colors:bColors,ticks:cbarBTicks,labels:cbarBLabels,minorStep:1,labelX:1969,fontSize:31});
})();

/* panels c and d */
function o3Color(level){return o3Colors[(level+36)/2];}
function crossHair(p,parent,panelName,label,labelX){
  const x0=vocX(p,0),y0=noxY(p,0);
  const v=mk("line",parent,{x1:x0,x2:x0,y1:p.y0,y2:p.y1,stroke:"#000","stroke-width":"2.4","stroke-dasharray":"11 5"});
  
  
  const h=mk("line",parent,{x1:p.x0,x2:p.x1,y1:y0,y2:y0,stroke:"#000","stroke-width":"2.4","stroke-dasharray":"11 5"});
  
  
  const c=mk("circle",parent,{cx:x0,cy:y0,r:"9.5",fill:"#fff"});
  
  
  const m=mk("path",parent,{d:"M"+(x0-3.5)+" "+y0+"H"+(x0+3.5)+"M"+x0+" "+(y0-3.5)+"V"+(y0+3.5),stroke:"#000","stroke-width":"1.8",fill:"none"});
  
  
  const t=mk("text",parent,{x:labelX,y:851,"font-size":"35",fill:"#fff"});
  t.textContent=label;
  
  
}
(function(){
  const parent=document.getElementById("panelC");
  const g=mk("g",parent,{"clip-path":"url(#clipC)"});
  
  
  cContours.forEach(function(voc,k){
    const n=noxRows.length;
    let d="";
    for(let i=0;i<n-1;i++){
      const a=voc[Math.max(0,i-1)],b=voc[i],c=voc[i+1],e=voc[Math.min(n-1,i+2)];
      for(let s=0;s<6;s++){
        const t=s/6;
        const x=vocX(PC,crInterp(a,b,c,e,t));
        const y=noxY(PC,noxRows[i]+(noxRows[i+1]-noxRows[i])*t);
        d+=(d?"L":"M")+x.toFixed(1)+" "+y.toFixed(1);
      }
    }
    d+="L"+vocX(PC,voc[n-1]).toFixed(1)+" "+noxY(PC,noxRows[n-1]).toFixed(1);
    d+="L"+vocX(PC,300).toFixed(1)+" "+noxY(PC,noxRows[n-1]).toFixed(1);
    d+="L"+vocX(PC,300).toFixed(1)+" "+noxY(PC,noxRows[0]).toFixed(1)+"Z";
    const el=mk("path",g,{d:d,fill:o3Color(cLevels[k])});
    
    
  });
  crossHair(PC,parent,'panel-c','Chengdu',610);
  drawFrame(PC,parent,'panel-c');
  drawPctAxes(PC,parent,'panel-c');
  drawColorbar(parent,{name:'colorbar-c',x0:898,x1:917,y0:769.5,y1:1210,tipTop:747,tipBottom:1233,vmin:-36,vmax:6,colors:o3Colors,ticks:cbarO3Ticks,labels:cbarO3Labels,minorStep:2,labelX:929,fontSize:30});
})();
(function(){
  const parent=document.getElementById("panelD");
  const g=mk("g",parent,{"clip-path":"url(#clipD)"});
  
  
  dContours.forEach(function(nox,k){
    const n=vocCols.length;
    let d="";
    for(let i=0;i<n-1;i++){
      const a=nox[Math.max(0,i-1)],b=nox[i],c=nox[i+1],e=nox[Math.min(n-1,i+2)];
      for(let s=0;s<8;s++){
        const t=s/8;
        const x=vocX(PD,vocCols[i]+(vocCols[i+1]-vocCols[i])*t);
        const y=noxY(PD,crInterp(a,b,c,e,t));
        d+=(d?"L":"M")+x.toFixed(1)+" "+y.toFixed(1);
      }
    }
    d+="L"+vocX(PD,vocCols[n-1]).toFixed(1)+" "+noxY(PD,nox[n-1]).toFixed(1);
    d+="L"+vocX(PD,vocCols[n-1]).toFixed(1)+" "+noxY(PD,300).toFixed(1);
    d+="L"+vocX(PD,vocCols[0]).toFixed(1)+" "+noxY(PD,300).toFixed(1)+"Z";
    const el=mk("path",g,{d:d,fill:o3Color(dLevels[k])});
    
    
  });
  crossHair(PD,parent,'panel-d','Chongqing',1604);
  drawFrame(PD,parent,'panel-d');
  drawPctAxes(PD,parent,'panel-d');
  drawColorbar(parent,{name:'colorbar-d',x0:1919,x1:1938,y0:769.5,y1:1210,tipTop:747,tipBottom:1233,vmin:-36,vmax:6,colors:o3Colors,ticks:cbarO3Ticks,labels:cbarO3Labels,minorStep:2,labelX:1949,fontSize:30});
})();
</script>
</body>
</html>
